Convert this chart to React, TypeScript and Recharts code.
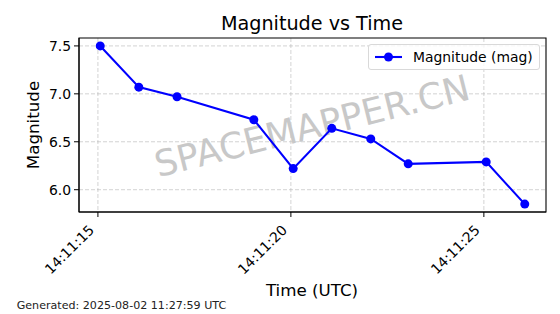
import { LineChart, Line, XAxis, YAxis, CartesianGrid, Legend, ReferenceArea, Customized } from 'recharts';

// seconds past 14:11:00 UTC
const seconds = [15.06, 16.06, 17.05, 19.04, 20.06, 21.06, 22.07, 23.04, 25.06, 26.06];
const magnitudes = [7.5, 7.07, 6.97, 6.73, 6.22, 6.64, 6.53, 6.27, 6.29, 5.85];
const xTicks = [15, 20, 25];
const yTicks = [6.0, 6.5, 7.0, 7.5];

const data = seconds.map((s, i) => ({ t: s, mag: magnitudes[i] }));

const X_DOMAIN: [number, number] = [14.51, 26.61];
const Y_DOMAIN: [number, number] = [5.7675, 7.5825];
const FONT = '"DejaVu Sans", sans-serif';

const fmtTime = (s: number) => `14:11:${String(Math.floor(s)).padStart(2, '0')}`;

const TimeTick = (props: any) => {
  const { x, y, payload } = props;
  const xe = x - 3;
  const ye = y + 12;
  return (
    <text
      x={xe}
      y={ye}
      transform={`rotate(-45, ${xe}, ${ye})`}
      textAnchor="end"
      fontSize={13.9}
      fontFamily={FONT}
      fill="#000"
    >
      {fmtTime(payload.value)}
    </text>
  );
};

const LegendBox = () => (
  <div
    style={{
      position: 'absolute',
      left: 368,
      top: 44,
      width: 172,
      height: 26,
      boxSizing: 'border-box',
      background: 'rgba(255,255,255,0.8)',
      border: '1px solid #d9d9d9',
      borderRadius: 3,
      fontFamily: FONT,
      fontSize: 13.9,
      display: 'flex',
      alignItems: 'center',
    }}
  >
    <svg width={40} height={20} style={{ marginLeft: 5 }}>
      <line x1={1} y1={10} x2={28} y2={10} stroke="#0000ff" strokeWidth={2.1} />
      <circle cx={14.5} cy={10} r={4.5} fill="#0000ff" />
    </svg>
    <span style={{ marginLeft: -1, color: '#000' }}>Magnitude (mag)</span>
  </div>
);

const Overlay = () => (
  <g fontFamily={FONT}>
    <text x={312} y={29.5} textAnchor="middle" fontSize={19.2} fill="#000">
      Magnitude vs Time
    </text>
    <text
      x={312}
      y={126}
      textAnchor="middle"
      dominantBaseline="central"
      fontSize={36}
      fill="#c8c8c8"
      transform="rotate(-14, 312, 126)"
    >
      SPACEMAPPER.CN
    </text>
    <text x={312} y={296} textAnchor="middle" fontSize={16.7} fill="#000">
      Time (UTC)
    </text>
    <text
      x={38.5}
      y={125}
      textAnchor="middle"
      fontSize={16.7}
      fill="#000"
      transform="rotate(-90, 38.5, 125)"
    >
      Magnitude
    </text>
    <text x={16.7} y={309} fontSize={11.1} fill="#222">
      Generated: 2025-08-02 11:27:59 UTC
    </text>
  </g>
);

export default function App() {
  return (
    <div style={{ position: 'absolute', left: 0, top: 0, width: 560, height: 314, background: '#fff' }}>
      <LineChart
        width={560}
        height={314}
        data={data}
        margin={{ top: 38, right: 14, left: 0, bottom: 0 }}
      >
        <CartesianGrid
          stroke="#b0b0b0"
          strokeOpacity={0.7}
          strokeDasharray="4 2"
          strokeWidth={0.8}
          verticalValues={xTicks}
          horizontalValues={yTicks}
        />
        <XAxis
          dataKey="t"
          type="number"
          domain={X_DOMAIN}
          ticks={xTicks}
          allowDataOverflow
          height={102}
          stroke="#000"
          tickSize={5}
          tickMargin={2}
          tick={<TimeTick />}
        />
        <YAxis
          type="number"
          domain={Y_DOMAIN}
          ticks={yTicks}
          allowDataOverflow
          width={79}
          stroke="#000"
          tickSize={5}
          tickMargin={3}
          tickFormatter={(v: number) => v.toFixed(1)}
          tick={{ fontSize: 13.9, fontFamily: FONT, fill: '#000' }}
        />
        <ReferenceArea
          x1={X_DOMAIN[0]}
          x2={X_DOMAIN[1]}
          y1={Y_DOMAIN[0]}
          y2={Y_DOMAIN[1]}
          fill="none"
          stroke="#000"
          strokeWidth={1.1}
          ifOverflow="visible"
        />
        <Customized component={Overlay} />
        <Line
          dataKey="mag"
          name="Magnitude (mag)"
          stroke="#0000ff"
          strokeWidth={2.1}
          dot={{ r: 4.5, fill: '#0000ff', stroke: '#0000ff', strokeWidth: 0 }}
          activeDot={false}
          isAnimationActive={false}
        />
        <Legend content={() => <LegendBox />} wrapperStyle={{ left: 0, top: 0, width: 0, height: 0 }} />
      </LineChart>
    </div>
  );
}
